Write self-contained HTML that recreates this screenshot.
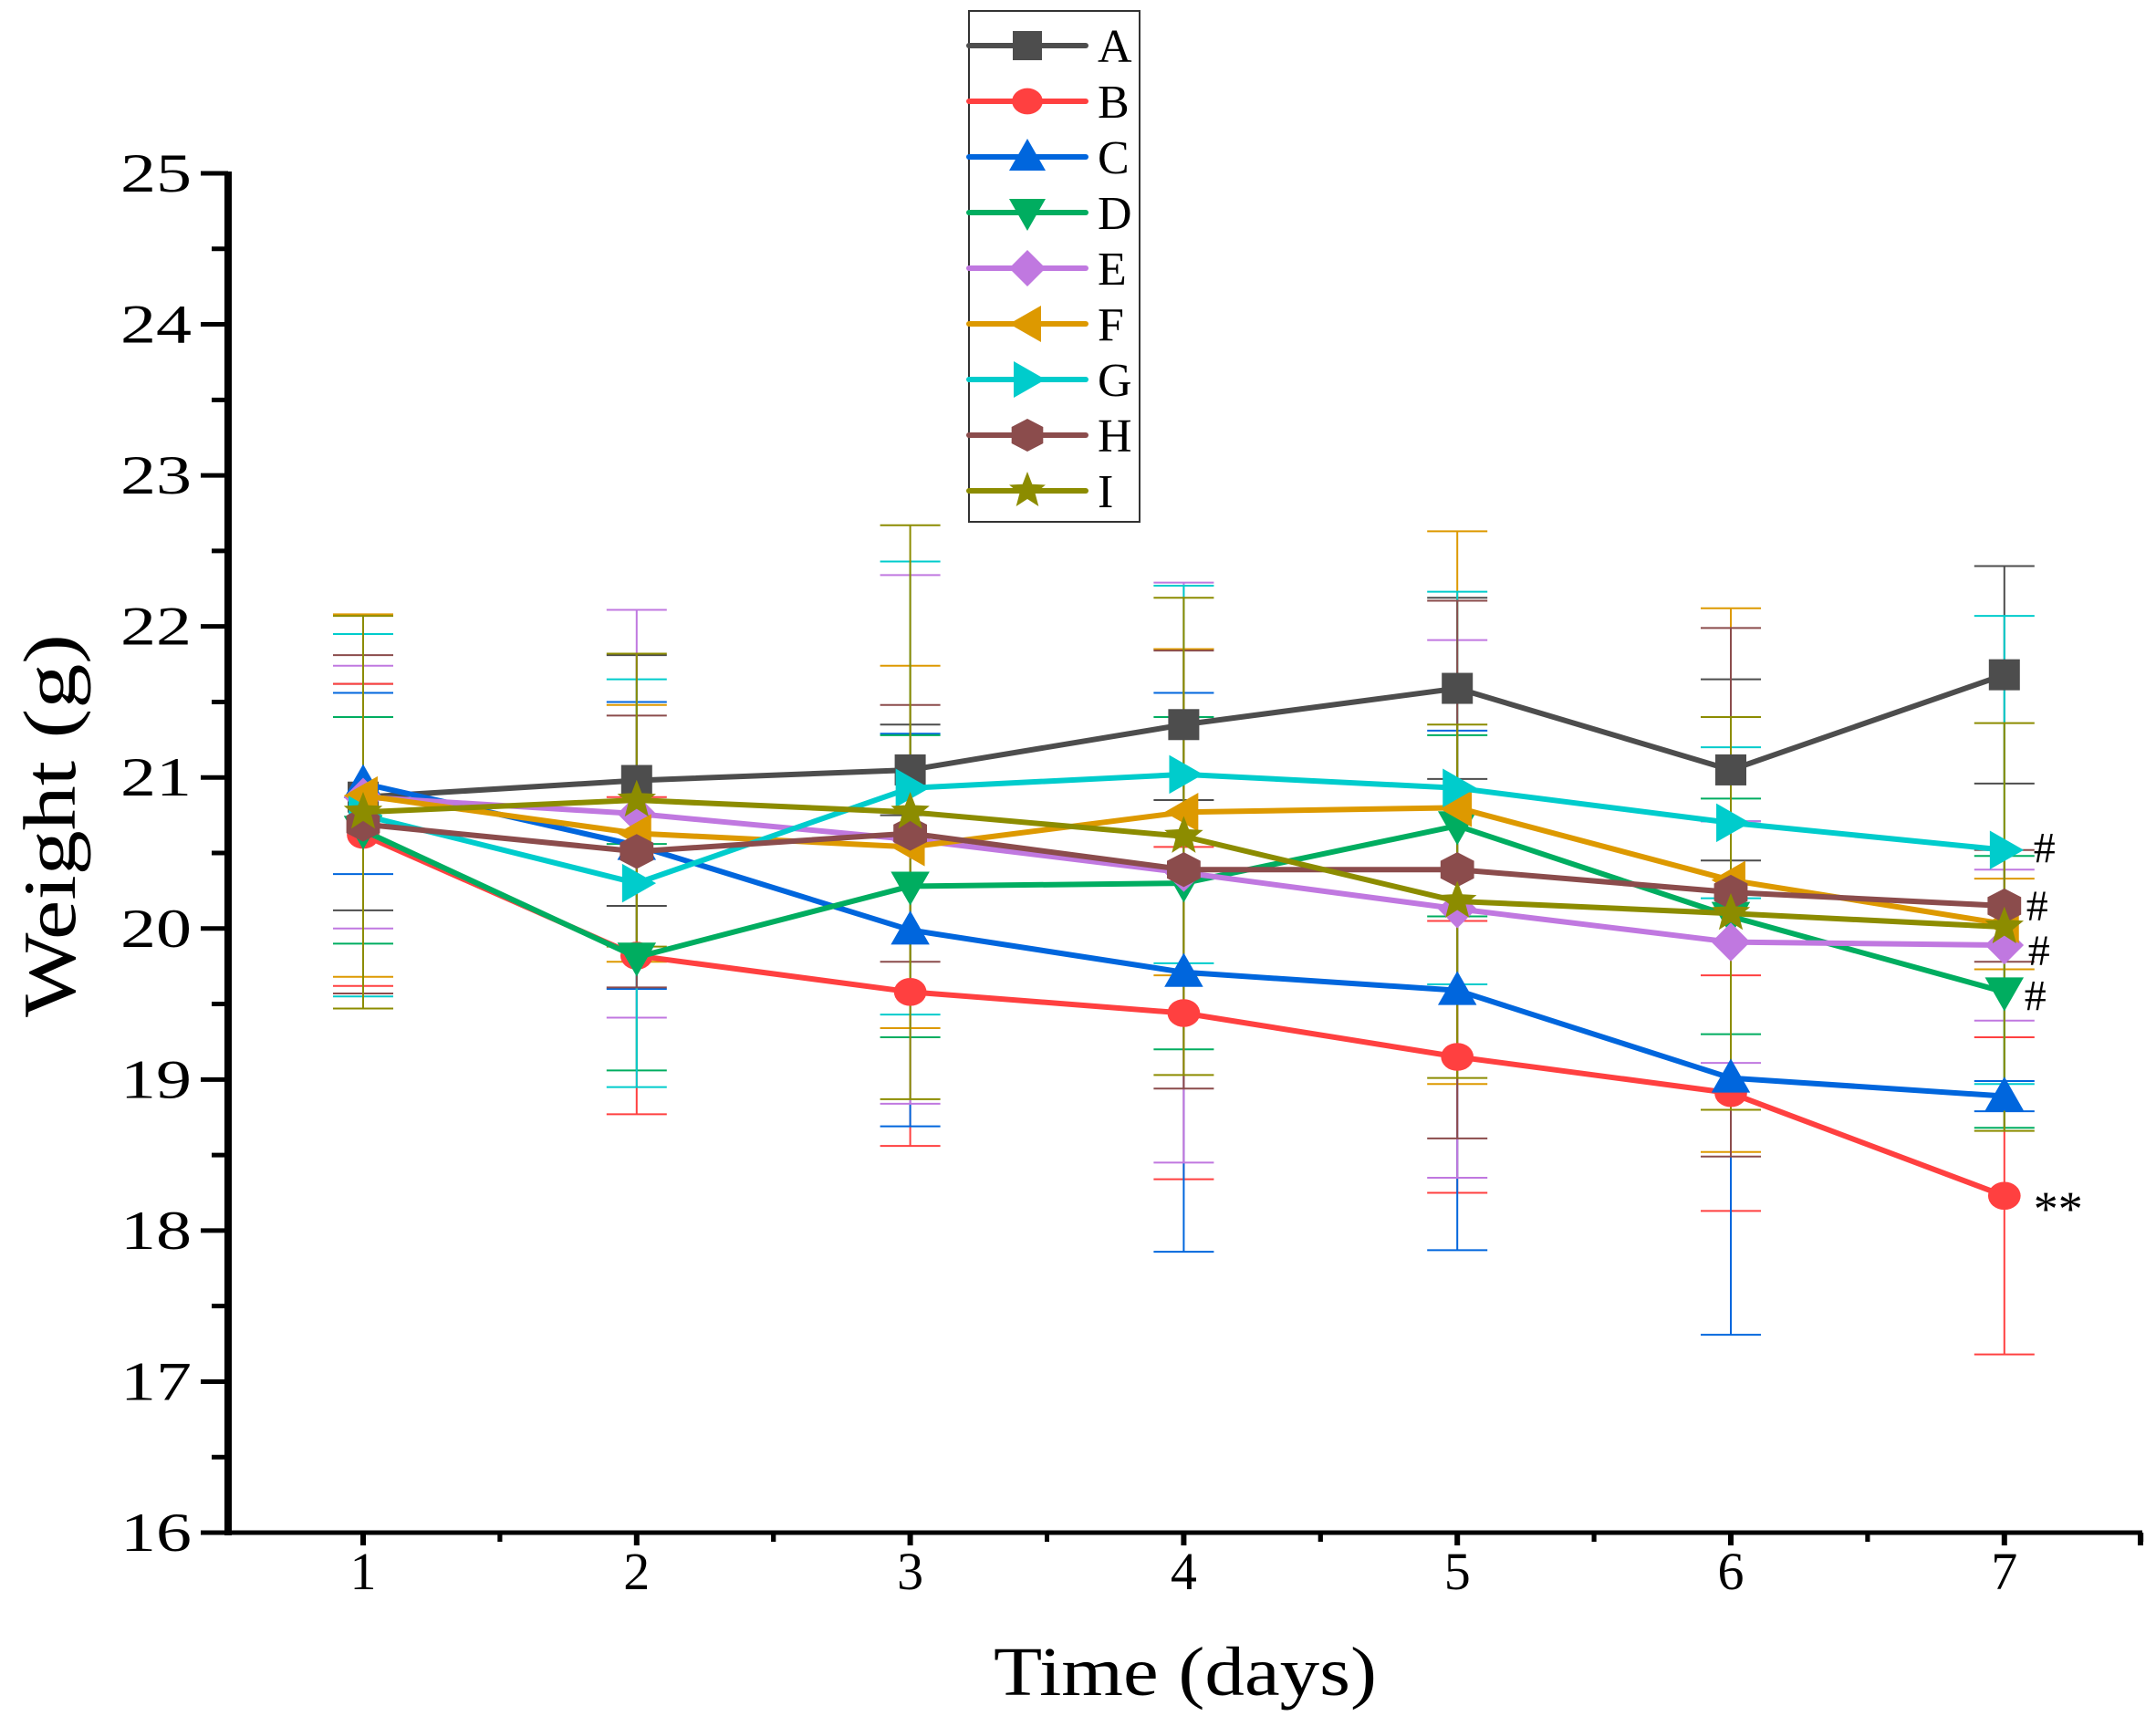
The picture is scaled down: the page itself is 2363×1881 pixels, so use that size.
<!DOCTYPE html>
<html><head><meta charset="utf-8"><style>
html,body{margin:0;padding:0;background:#fff;}
svg{display:block;font-family:"Liberation Serif",serif;}
</style></head><body>
<svg id="chart" width="2363" height="1881" viewBox="0 0 2363 1881" xmlns="http://www.w3.org/2000/svg">
<g id="plot"></g>
</svg>
<script>
const days = [1,2,3,4,5,6,7];
const seriesNames = ["A","B","C","D","E","F","G","H","I"];
const seriesColors = ["#4d4d4d","#ff4040","#0066dd","#00ad60","#c078e0","#dd9900","#00cccc","#8b4c4c","#8c8c00"];
const seriesMarkers = ["square","circle","up","down","diamond","left","right","hexagon","star"];
const valA = [20.87,20.98,21.05,21.35,21.59,21.05,21.68];
const valB = [20.62,19.82,19.58,19.44,19.15,18.91,18.23];
const valC = [20.96,20.55,19.99,19.71,19.59,19.01,18.89];
const valD = [20.65,19.81,20.28,20.30,20.68,20.08,19.58];
const valE = [20.87,20.76,20.59,20.37,20.13,19.91,19.89];
const valF = [20.88,20.63,20.54,20.77,20.80,20.32,20.03];
const valG = [20.75,20.30,20.93,21.02,20.93,20.70,20.52];
const valH = [20.69,20.51,20.63,20.39,20.39,20.24,20.15];
const valI = [20.77,20.85,20.77,20.61,20.18,20.10,20.01];
const errA = [0.75,0.83,0.30,0.50,0.60,0.60,0.72];
const errB = [1.00,1.05,1.02,1.10,0.90,0.78,1.05];
const errC = [0.60,0.95,1.30,1.85,1.72,1.70,0.10];
const errD = [0.75,0.75,1.00,1.10,0.60,0.78,0.90];
const errE = [0.87,1.35,1.75,1.92,1.78,0.80,0.50];
const errF = [1.20,0.85,1.20,1.08,1.83,1.80,0.30];
const errG = [1.20,1.35,1.50,1.25,1.30,0.50,1.55];
const errH = [1.12,0.90,0.85,1.45,1.78,1.75,0.37];
const errI = [1.30,0.97,1.90,1.58,1.17,1.30,1.35];
const yTicks = [16,17,18,19,20,21,22,23,24,25];
const xTicks = [1,2,3,4,5,6,7];
const annotations = [["G","#"],["H","#"],["E","#"],["D","#"],["B","**"]];

const allVals = [valA,valB,valC,valD,valE,valF,valG,valH,valI];
const allErrs = [errA,errB,errC,errD,errE,errF,errG,errH,errI];

const X0=250, X1=2348, Y0=1680, Y1=190;
const xScale = d => 398 + (d-1)*299.8;
const yScale = v => Y0 - (v-16)*(Y0-Y1)/9;
const NS="http://www.w3.org/2000/svg";
const plot=document.getElementById('plot');
function mk(tag, attrs, parent){const e=document.createElementNS(NS,tag);for(const k in attrs)e.setAttribute(k,attrs[k]);(parent||plot).appendChild(e);return e;}

function marker(type,cx,cy,r,color,parent){
  let e;
  if(type==="square") e=mk('rect',{x:cx-r,y:cy-r,width:2*r,height:2*r,fill:color},parent);
  else if(type==="circle") e=mk('ellipse',{cx:cx,cy:cy,rx:r*1.05,ry:r*0.9,fill:color},parent);
  else {
    let pts;
    const R=r*1.25;
    if(type==="up") pts=[[cx,cy-R],[cx+R,cy+R*0.75],[cx-R,cy+R*0.75]];
    else if(type==="down") pts=[[cx,cy+R],[cx+R,cy-R*0.75],[cx-R,cy-R*0.75]];
    else if(type==="left") pts=[[cx-R,cy],[cx+R*0.75,cy-R],[cx+R*0.75,cy+R]];
    else if(type==="right") pts=[[cx+R,cy],[cx-R*0.75,cy-R],[cx-R*0.75,cy+R]];
    else if(type==="diamond") pts=[[cx,cy-R],[cx+R,cy],[cx,cy+R],[cx-R,cy]];
    else if(type==="hexagon"){pts=[];for(let i=0;i<6;i++){const a=Math.PI/6+i*Math.PI/3;pts.push([cx+R*Math.cos(a),cy+R*0.9*Math.sin(a)]);}}
    else if(type==="star"){pts=[];for(let i=0;i<10;i++){const a=-Math.PI/2+i*Math.PI/5;const rr=i%2?R*0.45:R*1.05;pts.push([cx+rr*Math.cos(a),cy+rr*Math.sin(a)]);}}
    e=mk('polygon',{points:pts.map(p=>p.join(',')).join(' '),fill:color},parent);
  }
  return e;
}

allVals.forEach((vals,s)=>{
  const g=mk('g',{});
  
  
  vals.forEach((v,i)=>{
    const x=xScale(days[i]), e=allErrs[s][i];
    mk('line',{x1:x,x2:x,y1:yScale(v-e),y2:yScale(v+e),stroke:seriesColors[s],'stroke-width':2},g);
    mk('line',{x1:x-33,x2:x+33,y1:yScale(v-e),y2:yScale(v-e),stroke:seriesColors[s],'stroke-width':2},g);
    mk('line',{x1:x-33,x2:x+33,y1:yScale(v+e),y2:yScale(v+e),stroke:seriesColors[s],'stroke-width':2},g);
  });
});
allVals.forEach((vals,s)=>{
  const g=mk('g',{});
  
  
  const p=mk('polyline',{points:vals.map((v,i)=>xScale(days[i])+','+yScale(v)).join(' '),fill:'none',stroke:seriesColors[s],'stroke-width':6,'stroke-linejoin':'round'},g);
  
  
  vals.forEach((v,i)=>{
    const m=marker(seriesMarkers[s],xScale(days[i]),yScale(v),17,seriesColors[s],g);
    
    
  });
});
const ax=mk('g',{});


mk('line',{x1:X0,x2:X0,y1:Y1-2,y2:Y0+3,stroke:'#000','stroke-width':8},ax);
mk('line',{x1:X0-4,x2:X1,y1:Y0,y2:Y0,stroke:'#000','stroke-width':5},ax);
yTicks.forEach((t,i)=>{
  const y=yScale(t);
  mk('line',{x1:X0-30,x2:X0,y1:y,y2:y,stroke:'#000','stroke-width':5},ax);
  if(i<yTicks.length-1){const ym=yScale(t+0.5);mk('line',{x1:X0-18,x2:X0,y1:ym,y2:ym,stroke:'#000','stroke-width':5},ax);}
  const tx=mk('text',{x:X0-40,y:y+20,'text-anchor':'end','font-size':60,'textLength':78,'lengthAdjust':'spacingAndGlyphs'},ax);
  tx.textContent=t;
  
  
});
xTicks.forEach(t=>{
  const x=xScale(t);
  mk('line',{x1:x,x2:x,y1:Y0,y2:Y0+14,stroke:'#000','stroke-width':6},ax);
  [t-0.5,t+0.5].forEach(m=>{const xm=xScale(m);if(xm>X0+5&&xm<=X1)mk('line',{x1:xm,x2:xm,y1:Y0,y2:Y0+10,stroke:'#000','stroke-width':5},ax);});
  const tx=mk('text',{x:x,y:Y0+62,'text-anchor':'middle','font-size':58},ax);
  tx.textContent=t;
  
  
});
mk('line',{x1:X1-2,x2:X1-2,y1:Y0,y2:Y0+14,stroke:'#000','stroke-width':6},ax);
const xt=mk('text',{x:1299,y:1858,'text-anchor':'middle','font-size':76,'textLength':420,'lengthAdjust':'spacingAndGlyphs'},ax);
xt.textContent='Time (days)';


const yt=mk('text',{x:0,y:0,'text-anchor':'middle','font-size':82,'textLength':420,'lengthAdjust':'spacingAndGlyphs',transform:'translate(82,905) rotate(-90)'},ax);
yt.textContent='Weight (g)';


annotations.forEach(a=>{
  const s=seriesNames.indexOf(a[0]);
  const v=allVals[s][6];
  const off={G:[32,14],H:[24,16],E:[26,22],D:[22,20],B:[32,32]}[a[0]];
  const t=mk('text',{x:xScale(7)+off[0],y:yScale(v)+off[1],'font-size':a[1]==="**"?54:48});
  t.textContent=a[1];
  
  
});
const lg=mk('g',{});


mk('rect',{x:1062,y:12,width:187,height:560,fill:'#fff',stroke:'#333','stroke-width':2},lg);
seriesNames.forEach((n,i)=>{
  const y=50+61*i;
  const g=mk('g',{},lg);
  
  
  mk('line',{x1:1062,x2:1190,y1:y,y2:y,stroke:seriesColors[i],'stroke-width':6,'stroke-linecap':'round'},g);
  marker(seriesMarkers[i],1126,y,16,seriesColors[i],g);
  const t=mk('text',{x:1203,y:y+18,'font-size':52},g);
  t.textContent=n;
});
</script>
</body></html>
